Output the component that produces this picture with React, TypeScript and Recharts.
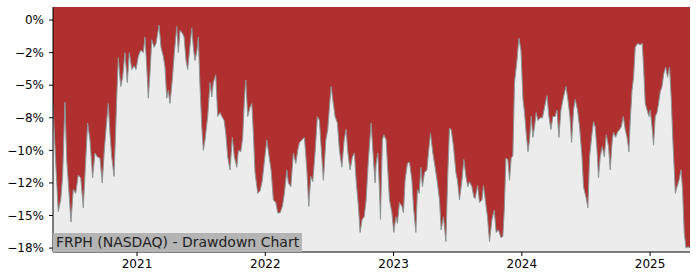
import { AreaChart, Area, XAxis, YAxis, CartesianGrid } from "recharts"

// decimal years
const dates = [
  2020.345, 2020.368, 2020.386, 2020.405, 2020.42, 2020.438, 2020.452, 2020.47, 2020.485, 2020.503,
  2020.522, 2020.542, 2020.561, 2020.581, 2020.615, 2020.633, 2020.654, 2020.672, 2020.69, 2020.711,
  2020.729, 2020.745, 2020.764, 2020.776, 2020.789, 2020.803, 2020.821, 2020.842, 2020.854, 2020.873,
  2020.888, 2020.906, 2020.924, 2020.94, 2020.959, 2020.977, 2020.992, 2021.01, 2021.029, 2021.049,
  2021.062, 2021.076, 2021.088, 2021.101, 2021.115, 2021.133, 2021.148, 2021.172, 2021.187, 2021.205,
  2021.218, 2021.232, 2021.244, 2021.257, 2021.275, 2021.291, 2021.31, 2021.322, 2021.335, 2021.353,
  2021.367, 2021.382, 2021.395, 2021.408, 2021.427, 2021.439, 2021.452, 2021.468, 2021.478, 2021.491,
  2021.505, 2021.517, 2021.53, 2021.551, 2021.569, 2021.583, 2021.595, 2021.614, 2021.629, 2021.647,
  2021.661, 2021.679, 2021.692, 2021.707, 2021.725, 2021.743, 2021.759, 2021.778, 2021.79, 2021.809,
  2021.824, 2021.837, 2021.848, 2021.863, 2021.881, 2021.895, 2021.907, 2021.92, 2021.941, 2021.959,
  2021.977, 2021.991, 2022.012, 2022.03, 2022.045, 2022.063, 2022.082, 2022.097, 2022.115, 2022.133,
  2022.149, 2022.168, 2022.18, 2022.199, 2022.219, 2022.238, 2022.253, 2022.266, 2022.285, 2022.305,
  2022.324, 2022.339, 2022.355, 2022.37, 2022.388, 2022.406, 2022.422, 2022.435, 2022.453, 2022.472,
  2022.487, 2022.5, 2022.513, 2022.526, 2022.544, 2022.562, 2022.578, 2022.597, 2022.615, 2022.63,
  2022.644, 2022.661, 2022.679, 2022.695, 2022.708, 2022.726, 2022.739, 2022.755, 2022.771, 2022.786,
  2022.804, 2022.825, 2022.843, 2022.856, 2022.864, 2022.877, 2022.888, 2022.898, 2022.913, 2022.924,
  2022.942, 2022.955, 2022.968, 2022.987, 2023.002, 2023.018, 2023.03, 2023.046, 2023.065, 2023.077,
  2023.09, 2023.108, 2023.124, 2023.143, 2023.155, 2023.174, 2023.186, 2023.2, 2023.213, 2023.225,
  2023.241, 2023.26, 2023.272, 2023.288, 2023.306, 2023.324, 2023.342, 2023.358, 2023.371, 2023.389,
  2023.408, 2023.423, 2023.436, 2023.449, 2023.467, 2023.486, 2023.498, 2023.514, 2023.533, 2023.548,
  2023.564, 2023.579, 2023.592, 2023.611, 2023.626, 2023.636, 2023.655, 2023.67, 2023.689, 2023.701,
  2023.72, 2023.732, 2023.748, 2023.767, 2023.785, 2023.8, 2023.818, 2023.837, 2023.852, 2023.863,
  2023.876, 2023.891, 2023.904, 2023.917, 2023.93, 2023.943, 2023.962, 2023.977, 2023.993, 2024.009,
  2024.021, 2024.034, 2024.048, 2024.06, 2024.073, 2024.086, 2024.099, 2024.112, 2024.125, 2024.143,
  2024.161, 2024.177, 2024.196, 2024.211, 2024.227, 2024.242, 2024.26, 2024.274, 2024.289, 2024.305,
  2024.325, 2024.344, 2024.359, 2024.375, 2024.388, 2024.403, 2024.416, 2024.434, 2024.45, 2024.469,
  2024.481, 2024.5, 2024.515, 2024.528, 2024.547, 2024.559, 2024.572, 2024.586, 2024.598, 2024.611,
  2024.627, 2024.643, 2024.658, 2024.676, 2024.689, 2024.705, 2024.715, 2024.731, 2024.746, 2024.762,
  2024.775, 2024.791, 2024.806, 2024.82, 2024.835, 2024.845, 2024.859, 2024.871, 2024.884, 2024.902,
  2024.923, 2024.939, 2024.949, 2024.962, 2024.976, 2024.991, 2025.001, 2025.015, 2025.027, 2025.04,
  2025.054, 2025.066, 2025.079, 2025.093, 2025.105, 2025.121, 2025.136, 2025.152, 2025.165, 2025.178,
  2025.197, 2025.21, 2025.225, 2025.241, 2025.253, 2025.266, 2025.28, 2025.296, 2025.311,
]

// drawdown in percent
const drawdown = [
  -6.4, -11.3, -14.7, -13.8, -12.0, -6.3, -10.7, -13.3, -15.5, -13.0,
  -13.3, -11.9, -12.1, -14.4, -7.9, -9.2, -12.1, -10.2, -10.5, -10.6,
  -12.5, -10.0, -7.7, -6.4, -8.7, -10.5, -12.0, -5.9, -2.9, -5.1,
  -4.4, -2.5, -4.8, -2.5, -3.8, -3.5, -3.8, -2.8, -2.3, -2.5,
  -1.3, -3.6, -6.0, -4.1, -1.5, -2.1, -1.8, -0.4, -2.1, -2.8,
  -3.6, -6.0, -5.4, -6.4, -4.6, -2.5, -0.5, -2.5, -0.8, -1.0,
  -1.3, -3.1, -3.8, -2.5, -0.6, -2.1, -3.1, -2.3, -1.3, -5.1,
  -8.2, -10.0, -9.2, -7.4, -4.8, -5.9, -4.8, -4.2, -7.4, -7.1,
  -7.4, -7.7, -8.7, -10.5, -11.5, -9.0, -10.5, -11.3, -10.0, -10.1,
  -9.0, -6.1, -4.6, -7.4, -6.7, -6.4, -8.7, -11.7, -13.3, -13.1,
  -12.3, -11.0, -9.2, -10.5, -11.5, -13.8, -14.0, -14.8, -14.8, -14.3,
  -13.3, -11.5, -12.5, -12.8, -10.2, -11.0, -10.0, -9.4, -9.2, -9.0,
  -11.5, -14.3, -12.0, -12.4, -10.2, -7.4, -7.7, -9.7, -12.3, -9.2,
  -8.4, -6.7, -5.1, -6.1, -7.4, -7.9, -10.0, -11.3, -9.2, -8.4,
  -10.2, -11.5, -10.5, -10.2, -12.3, -14.3, -16.3, -15.3, -15.1, -13.8,
  -10.7, -7.9, -10.7, -12.5, -11.0, -10.2, -12.5, -15.3, -9.2, -8.8,
  -9.2, -11.5, -13.8, -14.8, -16.3, -15.1, -15.6, -14.0, -14.3, -14.8,
  -12.3, -11.0, -10.9, -12.3, -14.3, -16.3, -13.0, -13.3, -11.3, -12.8,
  -11.7, -11.5, -10.2, -8.7, -10.2, -11.3, -12.5, -13.8, -16.1, -15.1,
  -17.0, -11.7, -8.3, -8.4, -9.7, -11.7, -12.3, -13.8, -12.3, -10.7,
  -12.0, -12.8, -12.4, -12.8, -13.6, -13.7, -12.7, -14.0, -13.8, -12.7,
  -14.2, -15.1, -17.0, -15.3, -14.6, -16.3, -16.1, -16.7, -16.6, -14.6,
  -10.6, -10.7, -12.3, -10.6, -10.4, -4.8, -3.1, -1.4, -2.3, -6.1,
  -7.1, -8.7, -10.1, -9.2, -7.4, -9.0, -8.2, -7.1, -7.7, -7.5,
  -7.5, -6.7, -5.8, -7.4, -8.4, -7.4, -7.4, -6.9, -9.0, -6.9,
  -5.9, -5.1, -6.1, -7.4, -9.4, -6.9, -6.1, -6.9, -8.2, -10.5,
  -12.8, -13.6, -14.4, -10.5, -8.7, -7.8, -8.2, -10.0, -12.1, -10.5,
  -9.7, -10.5, -8.8, -9.7, -11.5, -9.2, -8.6, -9.0, -8.6, -8.4,
  -8.2, -7.4, -8.4, -9.0, -10.1, -7.7, -5.4, -4.4, -2.1, -1.8,
  -1.9, -1.8, -3.6, -6.4, -6.9, -7.4, -6.9, -8.2, -9.6, -7.4,
  -7.1, -6.4, -5.5, -5.1, -4.2, -3.6, -4.4, -3.6, -6.1, -9.4,
  -13.3, -12.8, -12.3, -11.5, -13.0, -16.3, -17.5, -17.4, -17.5,
]

const yearTicks = [2021, 2022, 2023, 2024, 2025]
const pctTicks = [0, -2.5, -5, -7.5, -10, -12.5, -15, -17.5]
const pctLabels = ["0%", "\u22122%", "\u22125%", "\u22128%", "\u221210%", "\u221212%", "\u221215%", "\u221218%"]

const xDomain = [2020.345, 2025.311]
const yDomain = [-17.8, 1.0]

const data = dates.map((t, i) => ({ t, dd: drawdown[i] }))

const tickStyle = { fill: "#000", fontSize: 12, fontFamily: "DejaVu Sans" }

export default function App() {
  return (
    <div style={{ position: "absolute", left: 0, top: 0, width: 700, height: 280, background: "#fff" }}>
      <AreaChart
        width={700}
        height={280}
        data={data}
        margin={{ top: 7, right: 10, bottom: 0, left: 0 }}
      >
        <CartesianGrid horizontal={false} vertical={false} fill="#b03030" stroke="none" />
        <XAxis
          dataKey="t"
          type="number"
          domain={xDomain}
          ticks={yearTicks}
          allowDataOverflow
          height={28}
          tickSize={4}
          tickMargin={3}
          stroke="#000"
          tick={tickStyle}
        />
        <XAxis
          xAxisId="top"
          orientation="top"
          dataKey="t"
          type="number"
          domain={xDomain}
          height={0}
          tick={false}
          tickLine={false}
          stroke="#000"
        />
        <YAxis
          type="number"
          domain={yDomain}
          ticks={pctTicks}
          allowDataOverflow
          width={53}
          tickSize={4}
          tickMargin={5}
          stroke="#000"
          tick={tickStyle}
          tickFormatter={(v: number) => pctLabels[pctTicks.indexOf(v)] ?? ""}
        />
        <YAxis
          yAxisId="right"
          orientation="right"
          type="number"
          domain={yDomain}
          width={0}
          tick={false}
          tickLine={false}
          stroke="#000"
        />
        <Area
          type="linear"
          dataKey="dd"
          baseValue={yDomain[0]}
          stroke="#8c9696"
          strokeWidth={1}
          fill="#ececec"
          fillOpacity={1}
          isAnimationActive={false}
        />
      </AreaChart>
      <div
        style={{
          position: "absolute",
          left: 53,
          top: 233,
          height: 19,
          padding: "0 3px",
          background: "#b4b4b4",
          color: "#222",
          fontFamily: "DejaVu Sans",
          fontSize: 14,
          lineHeight: "19px",
          whiteSpace: "nowrap",
        }}
      >
        FRPH (NASDAQ) - Drawdown Chart
      </div>
    </div>
  )
}
